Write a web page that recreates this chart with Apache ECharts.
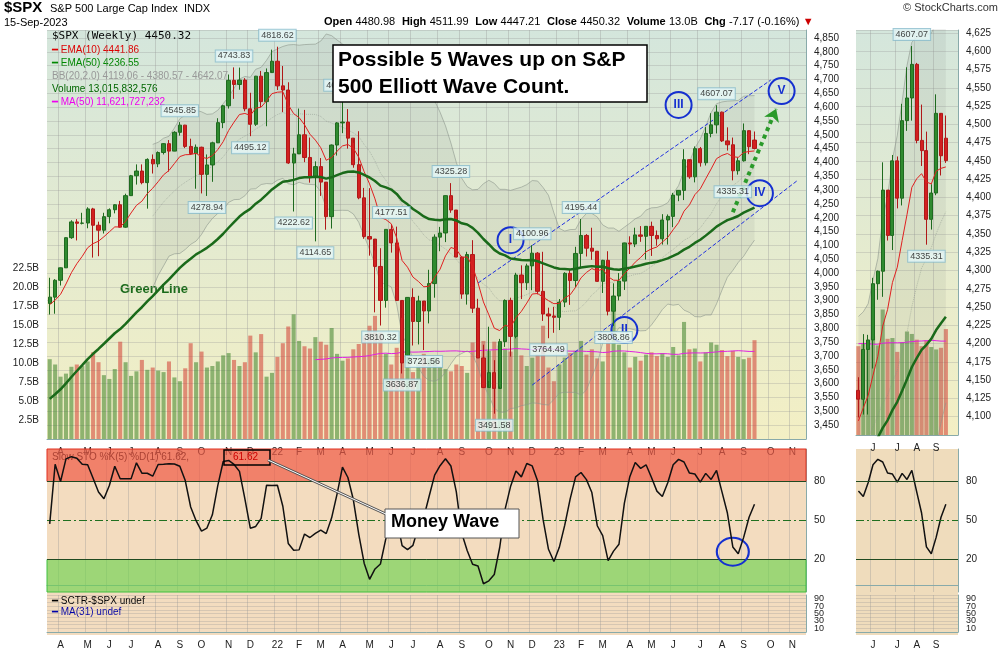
<!DOCTYPE html><html><head><meta charset="utf-8">
<script src="https://cdn.jsdelivr.net/npm/echarts@6/dist/echarts.min.js"></script>
<style>body{margin:0;background:#fff}#c{width:1000px;height:650px}</style></head><body><div id="c"></div><script>
// Weekly data (Mar 19 2021 .. Sep 15 2023)
const firstOpen=3890, lastOpen=4480.98;
const closes=[3913,3974,4019,4128,4185,4180,4181,4232,4173,4155,4204,4229,4247,4166,4280,4352,4369,4327,4411,4395,4436,4468,4441,4509,4535,4458,4432,4455,4357,4391,4471,4544,4605,4697,4682,4698,4594,4538,4712,4620,4725,4766,
4677,4662,4398,4431,4500,4418,4349,4385,4329,4204,4463,4543,4546,4488,4392,4272,4132,4123,4024,3901,4158,4109,3901,3675,3912,3825,3899,3863,3962,4130,4145,4280,4228,4058,3924,4067,3873,3693,3586,3640,3583,3752,3901,3771,3993,3965,4026,4072,3934,3852,3845,3840,
3895,3999,3973,4071,4136,4090,4079,3970,4046,3862,3917,3971,4109,4105,4138,4133,4169,4136,4124,4192,4205,4282,4299,4410,4348,4450,4399,4505,4536,4582,4478,4464,4370,4406,4515,4457,4450.32];
const highs=[3983,3978,4020,4129,4191,4195,4218,4238,4236,4186,4218,4234,4249,4261,4287,4355,4393,4393,4415,4429,4440,4470,4481,4513,4545.85,4536,4486,4465,4457,4429,4475,4560,4608,4718,4743.83,4743,4705,4652,4713,4731,4740,4808,
4818.62,4749,4690,4453,4595,4590,4490,4404,4416,4299,4465,4546,4637.30,4593,4471,4513,4308,4307,4082,4090,4158,4177.51,4168,3838,3913,3945,3918,3880,4012,4140,4167,4281,4325.28,4203,4062,4077,4119,3907,3741,3806,3685,3762,3905,3911,4001,4028,4034,4100.96,4076,4077,3875,3878,
3906,4003,4015,4095,4195.44,4141,4164,4077,4048,4079,3963,4000,4110,4133,4164,4170,4170,4186,4154,4213,4212,4290,4300,4448,4400,4458,4456,4528,4578,4607.07,4584,4527,4490,4418,4541,4512,4511.99];
const lows=[3850,3853,3955,4020,4124,4118,4176,4162,4056,4061,4143,4180,4216,4165,4164,4279,4320,4321,4233,4360,4383,4429,4367,4442,4497,4452,4427,4305,4288,4278.94,4330,4473,4524,4595,4630,4663,4585,4495.12,4532,4600,4531,4733,
4662,4582,4395,4222.62,4435,4401,4327,4114.65,4279,4157,4161,4425,4506,4450,4381,4267,4124,4063,3858,3810.32,3875,4074,3900,3636.87,3705,3738,3742,3721.56,3818,3911,4079,4112,4218,4057,3907,3886,3856,3693,3584,3610,3491.58,3590,3733,3698,3764,3906,3939,3938,3923,3827,3764.49,3784,
3794,3877,3885,3949,4021,4060,4048,3968,3928,3847,3808.86,3901,3939,4069,4094,4113,4049,4062,4099,4103,4103,4166,4260,4264,4341,4328,4385,4389,4491,4505,4474,4443,4335.31,4356,4403,4430,4447.21];
const volumes=[10.5,9.8,8.2,8.6,9.5,9.8,9.6,10.2,11.4,10.1,8.4,7.9,9.2,12.8,10.1,8.3,8.9,10.4,9.1,9.4,9.0,8.8,10.2,8.1,7.6,9.3,12.6,10.1,11.5,9.4,9.6,10.2,11.0,11.3,10.4,9.6,10.1,13.6,11.4,13.8,8.2,8.7,
10.8,12.6,14.8,16.4,12.9,12.2,11.9,13.4,12.8,12.4,14.6,11.2,10.3,10.6,11.8,12.5,13.6,14.9,16.2,14.0,11.2,9.8,12.0,15.8,10.9,8.8,9.7,11.2,10.6,10.8,9.5,9.2,8.9,9.8,9.6,8.7,12.7,13.4,12.9,11.6,12.8,12.3,11.9,11.5,13.8,11.0,9.6,10.7,11.1,14.9,9.4,7.6,
9.8,10.7,11.3,11.6,12.9,11.1,11.8,10.6,10.2,13.2,16.8,12.4,11.4,9.4,10.8,10.3,11.1,11.4,10.9,11.3,10.8,12.1,11.0,15.4,11.8,11.9,10.2,11.4,12.7,12.4,11.7,10.9,11.6,10.8,10.5,10.7,13.0];
const monthLetters='JFMAMJJASOND';
// annotations
const highLabelIdx=[24,34,42,54,63,74,89,98,123];
const lowLabelIdx=[29,37,45,49,61,65,69,82,92,104,126];
const miniHighIdx=[123], miniLowIdx=[126];
const waves=[['I',84.5,4119],['II',106,3794],['III',115.6,4608],['IV',130.6,4289],['V',135,4658]];
const miniStart=112, miniEnd=133;

const N=140;
const opens=closes.map((c,i)=>i===0?firstOpen:(i===closes.length-1?lastOpen:closes[i-1]));
const cats=[];{let d=new Date(Date.UTC(2021,2,19));for(let i=0;i<N;i++){cats.push(d.toISOString().slice(0,10));d=new Date(d.getTime()+7*864e5);}}
function ema(a,n,seed){const k=2/(n+1);let e=seed;return a.map(v=>{e=v*k+e*(1-k);return +e.toFixed(2);});}
function sma(a,n){return a.map((v,i)=>{if(i<n-1)return null;let s=0;for(let j=i-n+1;j<=i;j++)s+=a[j];return s/n;});}
function bb(a,n){const m=sma(a,n);const up=[],lo=[];a.forEach((v,i)=>{if(m[i]==null){up.push(null);lo.push(null);return;}let s=0;for(let j=i-n+1;j<=i;j++)s+=(a[j]-m[i])**2;const sd=Math.sqrt(s/n);up.push(m[i]+2*sd);lo.push(m[i]-2*sd);});return {m,up,lo};}
function stoch(c,h,l){const f=c.map((v,i)=>{const a=Math.max(0,i-4);const hh=Math.max(...h.slice(a,i+1)),ll=Math.min(...l.slice(a,i+1));return hh===ll?50:(v-ll)/(hh-ll)*100;});return f.map((v,i)=>i<2?v:(f[i]+f[i-1]+f[i-2])/3);}
const ema10=ema(closes,10,3880), ema50=ema(closes,50,3530);
const B=bb(closes,20);
const st=stoch(closes,highs,lows);
const volMA=sma(volumes,50);
const candle=closes.map((c,i)=>[opens[i],c,lows[i],highs[i]]);
const volData=volumes.map((v,i)=>({value:v,itemStyle:{color:closes[i]>=opens[i]?'rgba(60,130,40,0.55)':'rgba(210,60,50,0.55)'}}));
const mkLab=(idx,arr)=>idx.map(i=>[i,arr[i],arr[i].toFixed(2)]);
const S=(a)=>a.slice(miniStart,miniEnd);
const mkLabM=(idx,arr)=>idx.map(i=>[i-miniStart,arr[i],arr[i].toFixed(2)]);

function monthFirst(list){const s=new Set();list.forEach((d,i)=>{const p=i>0?list[i-1].slice(5,7):null;if(i>0&&d.slice(5,7)!==p)s.add(i);});return s;}
const wFirst=monthFirst(cats), mCats=S(cats), mFirst=monthFirst(mCats);
function mLabel(v){const m=+v.slice(5,7);return m===1?v.slice(2,4):monthLetters[m-1];}
const axLab={fontSize:10,color:'#222',fontFamily:'Arial'};
function xA(gi,data,set,show){return {type:'category',gridIndex:gi,data,boundaryGap:true,axisLine:{lineStyle:{color:'#8aa'}},axisTick:{show:false},
 axisLabel:{show:show,...axLab,interval:(i)=>set.has(i),formatter:mLabel},splitLine:{show:true,interval:(i)=>set.has(i),lineStyle:{color:'rgba(150,150,150,0.35)'}}};}
const ySplit={show:true,lineStyle:{color:'rgba(150,150,150,0.3)'}};
const bandCol='rgba(120,130,120,0.16)';
const lblStyle=(pos)=>({show:true,position:pos,distance:6,formatter:p=>p.data[2],fontSize:9,color:'#111',backgroundColor:'#e6f7f8',borderColor:'#8bc',borderWidth:1,padding:[1,2]});
const stLines={silent:true,symbol:'none',label:{show:false},data:[{yAxis:80,lineStyle:{color:'#204a20',type:'solid',width:1}},{yAxis:50,lineStyle:{color:'#207020',type:[8,3,2,3],width:1}},{yAxis:20,lineStyle:{color:'#204a20',type:'solid',width:1}}]};
const candleStyle={color:'#2f8a2f',color0:'#d22020',borderColor:'#1f6a1f',borderColor0:'#b01818'};
function priceSeries(xi,yi,vyi,sl,mini){
 const lo=sl(B.lo), up=sl(B.up);
 return [
  {type:'bar',xAxisIndex:xi,yAxisIndex:vyi,data:sl(volData),barWidth:mini?'85%':'75%',z:1},
  {type:'line',xAxisIndex:xi,yAxisIndex:vyi,data:sl(volMA),showSymbol:false,lineStyle:{color:'#e020e0',width:1},z:2},
  {type:'line',xAxisIndex:xi,yAxisIndex:yi,data:lo,stack:'bb'+xi,showSymbol:false,lineStyle:{opacity:0},z:2},
  {type:'line',xAxisIndex:xi,yAxisIndex:yi,data:up.map((u,i)=>u==null?null:u-lo[i]),stack:'bb'+xi,showSymbol:false,lineStyle:{opacity:0},areaStyle:{color:bandCol},z:2},
  {type:'line',xAxisIndex:xi,yAxisIndex:yi,data:up,showSymbol:false,lineStyle:{color:'rgba(140,150,140,0.6)',width:1},z:2},
  {type:'line',xAxisIndex:xi,yAxisIndex:yi,data:lo,showSymbol:false,lineStyle:{color:'rgba(140,150,140,0.6)',width:1},z:2},
  {type:'line',xAxisIndex:xi,yAxisIndex:yi,data:sl(B.m),showSymbol:false,lineStyle:{color:'rgba(140,150,140,0.5)',width:1,type:'dotted'},z:2},
  {type:'line',xAxisIndex:xi,yAxisIndex:yi,data:sl(ema10),showSymbol:false,lineStyle:{color:'#e02020',width:1},z:6},
  {type:'line',xAxisIndex:xi,yAxisIndex:yi,data:sl(ema50),showSymbol:false,lineStyle:{color:'#1a6a1a',width:2.5},z:6}];}
const ident=a=>a;

const option={animation:false,
 grid:[{left:47,top:30,width:759,height:409},{left:47,top:449,width:759,height:143},{left:47,top:595,width:759,height:40},
       {left:856,top:30,width:102,height:405},{left:856,top:449,width:102,height:143},{left:856,top:595,width:102,height:40}],
 xAxis:[xA(0,cats,wFirst,true),xA(1,cats,wFirst,false),xA(2,cats,wFirst,true),xA(3,mCats,mFirst,true),xA(4,mCats,mFirst,false),xA(5,mCats,mFirst,true)],
 yAxis:[
  {type:'value',gridIndex:0,position:'right',min:3400,max:4879,interval:50,axisLabel:{...axLab,showMinLabel:false,showMaxLabel:false},splitLine:ySplit,axisLine:{show:true,lineStyle:{color:'#8aa'}}},
  {type:'value',gridIndex:0,position:'left',min:0,max:53.8,interval:2.5,axisLabel:{...axLab,formatter:v=>(v>0&&v<=22.5)?v.toFixed(1)+'B':''},splitLine:{show:false},axisLine:{show:false},axisTick:{show:false}},
  {type:'value',gridIndex:1,position:'right',min:-5,max:105,interval:5,axisLabel:{...axLab,formatter:v=>[20,50,80].includes(v)?v:''},splitLine:{show:false},axisLine:{show:true,lineStyle:{color:'#8aa'}}},
  {type:'value',gridIndex:2,position:'right',min:0,max:100,interval:10,axisLabel:{...axLab,fontSize:9,formatter:v=>[10,30,50,70,90].includes(v)?v:''},splitLine:ySplit,axisLine:{show:true,lineStyle:{color:'#8aa'}}},
  {type:'value',gridIndex:3,position:'right',min:4075,max:4629,interval:25,axisLabel:{...axLab,showMinLabel:false,showMaxLabel:false},splitLine:ySplit,axisLine:{show:true,lineStyle:{color:'#8aa'}}},
  {type:'value',gridIndex:4,position:'right',min:-5,max:105,interval:5,axisLabel:{...axLab,formatter:v=>[20,50,80].includes(v)?v:''},splitLine:{show:false},axisLine:{show:true,lineStyle:{color:'#8aa'}}},
  {type:'value',gridIndex:5,position:'right',min:0,max:100,interval:10,axisLabel:{...axLab,fontSize:9,formatter:v=>[10,30,50,70,90].includes(v)?v:''},splitLine:ySplit,axisLine:{show:true,lineStyle:{color:'#8aa'}}},
  {type:'value',gridIndex:3,position:'left',min:0,max:49.7,show:false,splitLine:{show:false}}
 ],
 series:[
  ...priceSeries(0,0,1,ident,false),
  {type:'candlestick',xAxisIndex:0,yAxisIndex:0,data:candle,barWidth:'70%',z:5,itemStyle:candleStyle,
   markLine:{silent:true,symbol:'none',label:{show:false},lineStyle:{color:'#2030e0',type:'dashed',width:1},
     data:[[{coord:[78.5,3964]},{coord:[132.5,4698]}],[{coord:[88.6,3595]},{coord:[138.4,4336]}],
       [{coord:[126,4220],symbol:'none'},{coord:[134,4594],symbol:'arrow',symbolSize:12,lineStyle:{color:'#2a9a2a',type:'dotted',width:4}}]]}},
  {type:'scatter',xAxisIndex:0,yAxisIndex:0,data:mkLab(highLabelIdx,highs),symbolSize:0,z:8,label:lblStyle('top')},
  {type:'scatter',xAxisIndex:0,yAxisIndex:0,data:mkLab(lowLabelIdx,lows),symbolSize:0,z:8,label:lblStyle('bottom')},
  {type:'scatter',xAxisIndex:0,yAxisIndex:0,data:[],z:10,
   markPoint:{symbol:'circle',symbolSize:[26,26],silent:true,itemStyle:{color:'rgba(255,255,255,0)',borderColor:'#1530d0',borderWidth:2},
     label:{color:'#1530d0',fontSize:12,fontWeight:'bold',fontFamily:'Arial',overflow:'none'},
     data:waves.map(w=>({coord:[w[1],w[2]],value:w[0]}))}},
  {type:'line',xAxisIndex:1,yAxisIndex:2,data:st,showSymbol:false,lineStyle:{color:'#111',width:1.5},z:5,
   markArea:{silent:true,data:[[{yAxis:80,itemStyle:{color:'rgba(240,90,70,0.7)',borderColor:'#e03020',borderWidth:1}},{yAxis:105}],[{yAxis:-5,itemStyle:{color:'rgba(110,210,80,0.65)',borderColor:'#40c040',borderWidth:1}},{yAxis:20}]]},
   markLine:stLines,
   markPoint:{symbol:'circle',symbolSize:[32,28],silent:true,itemStyle:{color:'rgba(0,0,0,0)',borderColor:'#1530d0',borderWidth:2},label:{show:false},data:[{coord:[126,26]}]}},
  {type:'line',xAxisIndex:2,yAxisIndex:3,data:[],showSymbol:false},
  // mini (zoomed weekly)
  ...priceSeries(3,4,7,S,true),
  {type:'candlestick',xAxisIndex:3,yAxisIndex:4,data:S(candle),barWidth:'70%',z:5,itemStyle:candleStyle},
  {type:'scatter',xAxisIndex:3,yAxisIndex:4,data:mkLabM(miniHighIdx,highs),symbolSize:0,z:8,label:lblStyle('top')},
  {type:'scatter',xAxisIndex:3,yAxisIndex:4,data:mkLabM(miniLowIdx,lows),symbolSize:0,z:8,label:lblStyle('bottom')},
  {type:'line',xAxisIndex:4,yAxisIndex:5,data:S(st),showSymbol:false,lineStyle:{color:'#111',width:1.5},markLine:stLines},
  {type:'line',xAxisIndex:5,yAxisIndex:6,data:[],showSymbol:false}
 ],
 graphic:[
  {type:'rect',z:-10,shape:{x:47,y:30,width:759,height:409},style:{fill:new echarts.graphic.LinearGradient(0,0,0,1,[{offset:0,color:'#d4e6dc'},{offset:1,color:'#f3efc4'}])}},
  {type:'rect',z:-10,shape:{x:856,y:30,width:102,height:405},style:{fill:new echarts.graphic.LinearGradient(0,0,0,1,[{offset:0,color:'#d4e6dc'},{offset:1,color:'#f3efc4'}])}},
  {type:'rect',z:-10,shape:{x:47,y:449,width:759,height:186},style:{fill:'#f3dcbf'}},
  {type:'rect',z:-10,shape:{x:856,y:449,width:102,height:186},style:{fill:'#efdcbc'}},
  {type:'text',left:4,top:0,style:{text:'$SPX',font:'bold 15px Arial',fill:'#000'}},
  {type:'text',left:50,top:3,style:{text:'S&P 500 Large Cap Index  INDX',font:'11px Arial',fill:'#000'}},
  {type:'text',left:4,top:17,style:{text:'15-Sep-2023',font:'11px Arial',fill:'#000'}},
  {type:'text',left:324,top:16,style:{rich:{b:{font:'bold 11px Arial',fill:'#000'},n:{font:'11px Arial',fill:'#000'},r:{font:'11px Arial',fill:'#c00'}},text:'{b|Open} {n|4480.98}  {b|High} {n|4511.99}  {b|Low} {n|4447.21}  {b|Close} {n|4450.32}  {b|Volume} {n|13.0B}  {b|Chg} {n|-7.17 (-0.16%)} {r|▼}'}},
  {type:'text',right:2,top:2,style:{text:'© StockCharts.com',font:'11px Arial',fill:'#333'}},
  {type:'text',left:52,top:31,style:{text:'$SPX (Weekly) 4450.32',font:'11px "DejaVu Sans Mono"',fill:'#000'}},
  {type:'text',left:52,top:45,style:{text:'━ EMA(10) 4441.86',font:'10px Arial',fill:'#d00'}},
  {type:'text',left:52,top:58,style:{text:'━ EMA(50) 4236.55',font:'10px Arial',fill:'#080'}},
  {type:'text',left:52,top:71,style:{text:'BB(20,2.0) 4119.06 - 4380.57 - 4642.07',font:'10px Arial',fill:'#999'}},
  {type:'text',left:52,top:84,style:{text:'Volume 13,015,832,576',font:'10px Arial',fill:'#060'}},
  {type:'text',left:52,top:97,style:{text:'━ MA(50) 11,621,727,232',font:'10px Arial',fill:'#e0e'}},
  {type:'text',left:120,top:283,style:{text:'Green Line',font:'bold 13px Arial',fill:'#1a6a1a'}},
  {type:'rect',z:50,shape:{x:333,y:45,width:314,height:57},style:{fill:'#fff',stroke:'#000',lineWidth:1.5}},
  {type:'text',z:51,left:338,top:47,style:{text:'Possible 5 Waves up on S&P\n500 Elliott Wave Count.',font:'bold 21px Arial',fill:'#000',lineHeight:27}},
  {type:'text',left:52,top:452,style:{text:'Slow STO %K(5) %D(1) 61.62,',font:'10px Arial',fill:'#000'}},
  {type:'rect',z:50,shape:{x:224,y:450,width:46,height:15},style:{fill:'rgba(0,0,0,0)',stroke:'#000',lineWidth:1.5}},
  {type:'text',z:51,left:233,top:452,style:{text:'61.62',font:'10px Arial',fill:'#c00'}},
  {type:'line',z:50,shape:{x1:268,y1:460,x2:388,y2:515},style:{stroke:'#555',lineWidth:3}},
  {type:'line',z:51,shape:{x1:268,y1:460,x2:388,y2:515},style:{stroke:'#fff',lineWidth:1}},
  {type:'rect',z:50,shape:{x:385,y:509,width:134,height:29},style:{fill:'#fff',stroke:'#555',lineWidth:1}},
  {type:'text',z:51,left:391,top:513,style:{text:'Money Wave',font:'bold 18px Arial',fill:'#000'}},
  {type:'text',left:52,top:596,style:{text:'━ SCTR-$SPX undef',font:'10px Arial',fill:'#000'}},
  {type:'text',left:52,top:607,style:{text:'━ MA(31) undef',font:'10px Arial',fill:'#00a'}}
 ]};
echarts.init(document.getElementById('c')).setOption(option);
</script></body></html>
